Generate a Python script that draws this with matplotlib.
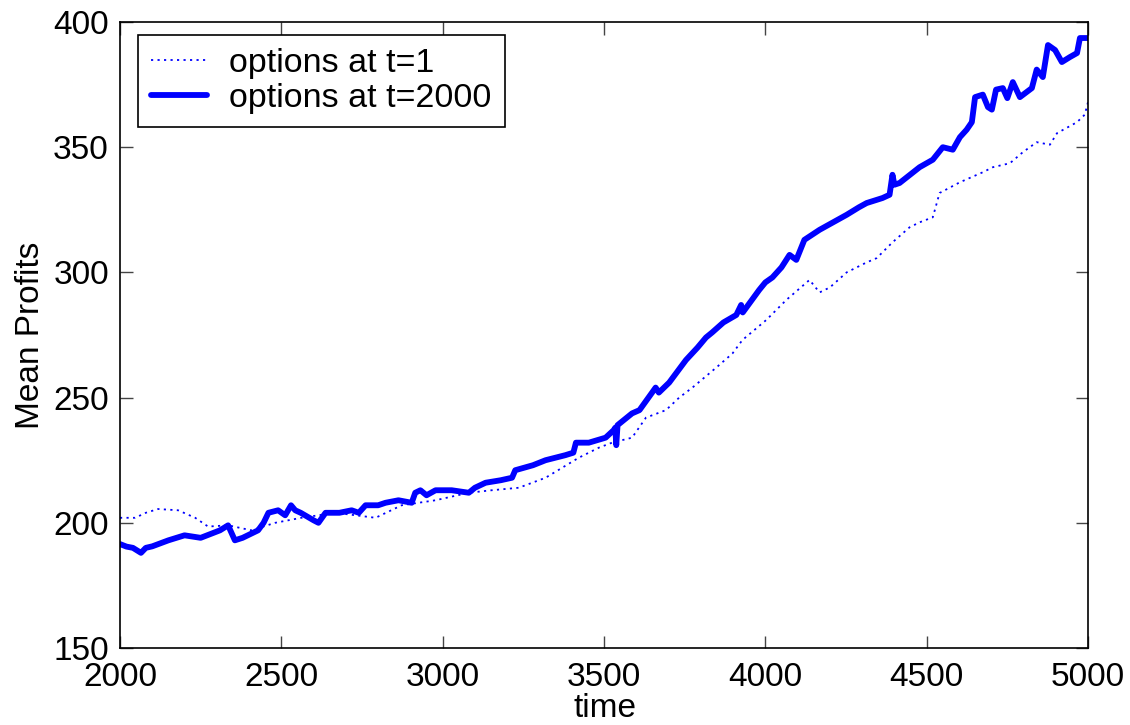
import matplotlib
matplotlib.use("Agg")
import matplotlib.pyplot as plt

# ---- data ----
t_2000 = [2000, 2020, 2040, 2065, 2080, 2100, 2150, 2200, 2250, 2290, 2310, 2335,
          2356, 2380, 2428, 2445, 2460, 2490, 2512, 2530, 2543, 2560, 2600, 2615,
          2637, 2680, 2718, 2740, 2761, 2800, 2823, 2863, 2904, 2915, 2931, 2950,
          2978, 3028, 3081, 3100, 3133, 3180, 3215, 3225, 3280, 3319, 3380, 3405,
          3413, 3453, 3505, 3530, 3535, 3538, 3542, 3587, 3610, 3649, 3660, 3670,
          3702, 3754, 3790, 3816, 3835, 3870, 3910, 3925, 3930, 3981, 4000, 4022,
          4050, 4065, 4075, 4096, 4121, 4168, 4210, 4252, 4290, 4314, 4363, 4385,
          4394, 4400, 4416, 4478, 4519, 4550, 4581, 4603, 4624, 4640, 4650, 4674,
          4690, 4702, 4715, 4736, 4750, 4767, 4789, 4826, 4841, 4860, 4876, 4898,
          4919, 4944, 4966, 4975, 5000]
mp_2000 = [191.5, 190.5, 190, 188, 190, 190.6, 193, 195, 194, 196, 197, 199,
           193, 194, 197, 200, 204, 205, 203, 207, 205, 204, 201, 200,
           204, 204, 205, 204, 207, 207, 208, 209, 208, 212, 213, 211,
           213, 213, 212, 214, 216, 217, 218, 221, 223, 225, 227, 228,
           232, 232, 234, 237, 238, 231, 239, 243.7, 245, 252, 254, 252,
           256, 265, 270, 274, 276, 280, 283, 287, 284, 293, 296, 298,
           302, 305, 307, 305, 313, 317, 320, 323, 326, 327.7, 329.7, 331,
           339, 335, 335.7, 342, 345, 350, 349, 354, 357, 360, 370, 371,
           366, 365, 373, 373.6, 369.6, 376, 370, 373.6, 381, 378, 390.8, 388.8,
           384, 386, 387.6, 393.6, 393.6]

t_1 = [2000, 2047, 2080, 2118, 2180, 2233, 2273, 2335, 2407, 2481, 2562, 2668,
       2792, 2873, 2978, 3081, 3152, 3236, 3319, 3422, 3484, 3525, 3587, 3630,
       3692, 3733, 3774, 3848, 3898, 3929, 4003, 4065, 4137, 4168, 4200, 4252,
       4314, 4345, 4394, 4447, 4478, 4519, 4540, 4603, 4674, 4705, 4758, 4798,
       4841, 4882, 4904, 4966, 4990, 5000]
mp_1 = [202, 202, 204, 205.5, 205, 202, 198.5, 199, 197, 200, 202, 204,
        202, 207, 209, 212, 213, 214, 218, 226, 230, 232, 234, 242,
        245, 250, 254, 262, 267.6, 273, 281, 289, 297, 292, 294, 300,
        304, 305.7, 312, 318, 320, 322, 331.7, 336, 340, 342, 343.6, 348,
        352, 351, 355.6, 360, 363, 368]

labels = ["options at t=1", "options at t=2000"]
xticks = [2000, 2500, 3000, 3500, 4000, 4500, 5000]
yticks = [150, 200, 250, 300, 350, 400]

plt.rcParams['font.family'] = ['Liberation Sans', 'DejaVu Sans']
FS = 24

W, H = 1130, 725
fig = plt.figure(figsize=(W / 100, H / 100), dpi=100)
ax = fig.add_axes([120 / W, 1 - 648 / H, (1088 - 120) / W, (648 - 22) / H])

ax.plot(t_1, mp_1, color='#0000ff', linestyle=(0, (1.2, 2.4)), linewidth=1.3,
        label=labels[0])
ax.plot(t_2000, mp_2000, color='#0000ff', linestyle='-', linewidth=4.2,
        solid_joinstyle='round', solid_capstyle='round', label=labels[1])

ax.set_xlim(2000, 5000)
ax.set_ylim(150, 400)
ax.set_xticks(xticks)
ax.set_yticks(yticks)
ax.tick_params(direction='in', length=9, width=1, color='#444444',
               top=True, right=True, labelsize=FS, pad=8)
ax.tick_params(axis='x', pad=10)
for s in ax.spines.values():
    s.set_linewidth(1.2)
    s.set_color('black')

ax.set_xlabel('time', fontsize=FS)
ax.set_ylabel('Mean Profits', fontsize=FS)
ax.xaxis.label.set_va('center')
ax.yaxis.label.set_va('center')
ax.xaxis.set_label_coords(0.501, -0.097)
ax.yaxis.set_label_coords(-0.092, 0.5)

leg = ax.legend(loc='upper left', bbox_to_anchor=((138 - 120) / 968, (648 - 35) / 626),
                borderaxespad=0, fontsize=24.5, fancybox=False, framealpha=1,
                edgecolor='black', handlelength=1.65, handletextpad=0.65,
                labelspacing=0.12, borderpad=0.38)
leg.get_frame().set_linewidth(1.2)

fig.savefig('out.png', dpi=100)
